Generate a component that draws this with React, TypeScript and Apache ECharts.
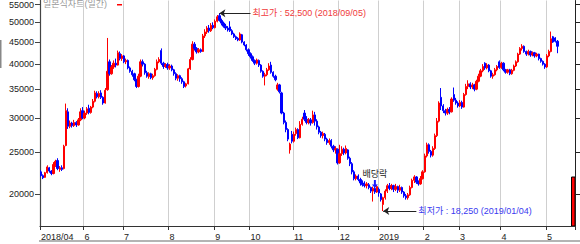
import React, { useEffect, useRef } from "react";
import * as echarts from "echarts";

// KRX holidays in the range (non-trading weekdays)
const holidays = [
  "2018-05-01", "2018-05-07", "2018-05-22", "2018-06-06", "2018-06-13", "2018-08-15",
  "2018-09-24", "2018-09-25", "2018-09-26", "2018-10-03", "2018-10-09", "2018-12-25",
  "2018-12-31", "2019-01-01", "2019-02-04", "2019-02-05", "2019-02-06", "2019-03-01",
  "2019-05-01", "2019-05-06",
];

function tradingDays(start: string, end: string): string[] {
  const out: string[] = [];
  const [sy, sm, sd] = start.split("-").map(Number);
  const [ey, em, ed] = end.split("-").map(Number);
  let t = Date.UTC(sy, sm - 1, sd);
  const e = Date.UTC(ey, em - 1, ed);
  while (t <= e) {
    const d = new Date(t);
    const dow = d.getUTCDay();
    const s = d.toISOString().slice(0, 10);
    if (dow !== 0 && dow !== 6 && holidays.indexOf(s) < 0) out.push(s);
    t += 86400000;
  }
  return out;
}

const dates = tradingDays("2018-04-30", "2019-05-22");

// [open, close, low, high]
const ohlc: number[][] = [
  [22500, 22050, 21900, 22700],
  // 2018-05
  [22050, 21800, 21650, 22200], [21850, 22400, 21800, 22500], [22400, 23100, 22300, 23300],
  [23000, 22600, 22400, 23100], [22600, 22300, 22100, 22700], [22300, 23400, 22200, 23700],
  [23300, 23800, 23100, 24000], [23900, 22900, 22700, 24200], [22800, 23000, 22500, 23200],
  [23000, 22800, 22600, 23300], [22900, 25800, 22800, 26000], [25900, 31200, 25800, 32400],
  [31000, 28700, 28300, 31600], [28700, 29200, 28400, 29600], [29200, 28800, 28500, 29400],
  [28800, 29300, 28600, 29700], [29300, 28900, 28600, 29500], [28900, 29700, 28800, 30000],
  [29700, 31000, 29500, 31600], [31200, 30000, 29800, 31800],
  // 2018-06
  [30000, 30800, 29800, 31200], [30800, 31500, 30500, 31800], [31600, 30900, 30600, 32200],
  [30900, 31800, 30700, 32000], [31800, 32800, 31600, 33200], [32800, 34300, 32600, 34700],
  [34200, 33600, 33300, 34600], [33600, 34200, 33300, 34600], [34300, 33500, 33200, 34800],
  [33500, 32500, 32200, 33700], [32500, 34800, 32400, 35200], [34900, 38500, 34700, 46000],
  [40500, 38000, 37600, 41000], [38000, 39400, 37800, 39800], [39400, 40200, 39000, 40800],
  [40200, 39800, 39300, 41200], [39800, 42500, 39700, 43000], [42300, 41200, 40800, 42800],
  [41200, 41800, 40700, 42200],
  // 2018-07
  [41800, 40500, 40200, 42000], [40500, 40800, 40000, 41200], [40800, 39200, 38900, 41000],
  [39200, 38500, 38200, 39500], [38500, 37800, 37400, 38800], [38000, 36800, 36500, 38200],
  [36800, 35500, 35200, 37000], [35500, 37500, 35300, 38000], [37500, 40500, 37300, 41000],
  [40500, 40000, 39500, 41000], [40000, 38200, 37800, 40200], [38200, 37500, 37200, 38600],
  [37400, 38000, 37000, 38300], [38000, 37200, 36900, 38200], [37200, 37600, 36800, 38000],
  [37600, 38900, 37400, 39200], [38900, 40500, 38700, 41000], [40500, 41000, 40200, 41500],
  [43000, 40200, 39800, 43500], [40200, 39500, 39000, 40500], [39500, 39900, 39200, 40200],
  [39900, 39200, 38800, 40300],
  // 2018-08
  [39200, 39600, 38800, 40000], [39600, 38800, 38500, 39900], [38800, 38000, 37600, 39000],
  [38000, 37100, 36700, 38300], [37100, 37600, 36600, 37900], [37600, 37000, 36400, 37800],
  [37000, 36400, 36000, 37300], [36400, 35500, 35200, 36600], [35600, 36000, 35300, 36200],
  [36000, 39000, 35900, 39200], [39000, 41000, 38800, 41500], [41000, 44500, 40800, 45200],
  [44500, 43500, 43000, 45000], [43500, 42700, 42300, 43800], [42700, 43200, 42400, 43600],
  [43200, 42800, 42500, 43500], [42800, 46500, 42700, 47000], [46500, 47500, 46000, 48200],
  [47500, 48500, 47000, 49000], [48500, 47800, 47300, 49300], [47800, 49200, 47500, 49800],
  [49200, 48600, 48200, 50000],
  // 2018-09
  [48600, 50300, 48400, 50800], [50300, 51500, 50000, 52000], [51800, 50500, 50200, 52500],
  [50500, 49800, 49200, 51000], [49800, 49000, 48600, 50200], [49000, 48500, 48000, 49600],
  [48500, 48000, 47600, 49000], [48800, 47800, 47500, 50300], [47800, 47000, 46700, 48200],
  [47000, 46300, 46000, 47300], [46300, 45800, 45500, 46600], [45900, 45500, 45200, 46200],
  [45500, 47000, 45300, 47400], [46800, 45000, 44700, 47000], [45000, 44300, 44000, 45200],
  [44300, 43200, 42800, 44500], [43200, 42300, 41800, 43500],
  // 2018-10
  [42300, 41600, 41200, 42600], [41600, 40800, 40500, 41900], [40800, 40200, 39800, 41000],
  [40200, 40900, 39900, 41200], [40800, 39800, 39400, 41000], [39800, 38500, 38200, 40000],
  [38500, 37500, 37200, 38700], [37500, 37800, 35700, 38200], [37800, 38800, 37500, 39200],
  [38800, 39600, 38600, 40200], [39800, 38300, 38000, 40500], [38300, 37500, 37200, 38500],
  [37500, 36800, 36500, 37800], [35000, 35800, 34700, 36200], [35800, 34500, 34200, 36000],
  [34300, 30800, 30600, 34500], [30800, 29300, 29000, 31000], [29300, 28200, 27800, 29600],
  [28200, 26800, 26500, 28400], [25300, 26100, 24800, 26300], [27500, 26500, 26200, 28000],
  // 2018-11
  [26500, 27500, 26300, 27900], [27600, 28200, 27300, 28500], [28200, 27000, 26800, 28400],
  [27000, 29000, 26900, 29500], [29000, 29800, 28800, 30200], [30800, 29800, 29500, 31300],
  [29800, 29300, 29000, 30300], [29300, 29700, 29000, 30000], [29700, 29200, 28800, 30000],
  [29300, 30500, 29100, 31200], [30500, 29500, 28800, 31000], [29500, 28600, 28200, 29800],
  [28600, 27800, 27500, 28800], [27800, 27300, 27000, 28000], [27300, 27600, 26900, 27900],
  [27500, 26800, 26500, 27700], [26800, 26300, 26000, 27000], [26300, 26600, 26000, 26900],
  [26600, 25800, 25500, 26800], [25800, 25300, 25000, 26000], [25300, 25500, 24800, 25800],
  [25400, 23600, 23400, 25500],
  // 2018-12
  [23600, 24800, 23500, 26000], [24800, 25400, 24500, 25800], [25400, 24900, 24600, 25600],
  [24900, 25500, 24700, 25900], [25300, 24200, 24000, 25400], [24200, 23500, 23200, 24400],
  [23500, 22500, 22200, 23700], [22500, 21700, 21500, 22700], [21700, 22000, 21500, 22200],
  [22000, 21600, 21400, 22200], [21600, 21200, 20900, 21800], [21200, 21000, 20800, 21500],
  [21000, 20900, 20700, 21400], [20900, 21100, 20600, 21300], [21000, 20700, 20500, 21200],
  [20700, 20300, 20100, 20800], [20300, 20600, 19200, 20800], [20600, 20200, 20000, 20900],
  [20200, 20800, 20100, 21000],
  // 2019-01
  [20500, 20100, 19700, 20700], [20000, 19400, 19200, 20100], [18900, 19600, 18250, 19700],
  [19600, 20300, 19400, 20500], [20300, 20900, 20100, 21100], [20900, 20600, 20400, 21200],
  [20600, 20900, 20400, 21100], [20900, 20500, 20200, 21000], [20500, 20800, 20300, 21100],
  [20800, 20400, 20100, 20900], [20400, 20700, 20200, 21000], [20700, 20200, 20000, 20800],
  [20200, 19800, 19600, 20300], [19800, 19600, 19400, 20000], [19600, 19900, 19400, 20100],
  [19900, 20700, 19800, 20900], [20700, 21500, 20600, 21700], [21500, 21900, 21200, 22100],
  [21900, 21300, 21100, 22000], [21300, 21100, 20900, 21500], [21100, 21700, 21000, 22000],
  [21700, 22500, 21600, 22700],
  // 2019-02
  [22500, 24500, 22400, 24800], [24500, 26000, 24300, 26300], [26000, 25100, 24800, 26200],
  [25100, 24600, 24300, 25300], [24600, 25500, 24400, 25800], [25500, 27300, 25300, 27600],
  [27300, 29500, 27100, 30000], [29500, 32500, 29300, 32800], [33500, 32000, 31300, 35200],
  [32000, 31200, 30800, 32300], [31200, 30800, 30400, 31500], [30800, 31400, 30500, 31700],
  [31400, 31000, 30600, 31800], [31000, 33200, 30900, 33500], [34000, 33000, 32700, 35300],
  [33000, 32500, 32200, 33400], [32500, 32000, 31700, 32800],
  // 2019-03
  [32000, 32600, 31800, 33000], [32600, 31800, 31500, 32900], [31800, 34000, 31700, 34300],
  [34000, 35500, 33800, 36000], [35500, 36000, 35000, 36700], [36000, 35400, 35000, 36300],
  [35400, 35800, 35000, 36200], [35800, 35000, 34600, 36000], [35000, 36500, 34800, 36800],
  [36500, 37500, 36300, 38000], [37500, 38600, 37300, 39000], [38600, 39500, 38300, 40000],
  [40200, 39200, 38800, 40400], [39200, 39800, 38900, 40200], [39800, 38600, 38300, 40000],
  [38600, 37500, 37200, 38800], [37500, 37800, 37000, 38200], [37800, 38800, 37600, 39200],
  [38800, 39500, 38500, 39800], [40500, 39300, 39000, 40800],
  // 2019-04
  [39300, 40200, 39000, 40500], [40200, 38800, 38500, 40400], [38800, 38300, 38000, 39000],
  [38300, 38800, 38000, 39000], [38800, 38000, 37700, 39000], [38000, 38700, 37800, 39000],
  [38700, 39600, 38500, 39900], [39600, 40500, 39400, 40800], [40500, 42200, 40300, 42500],
  [42200, 43500, 42000, 43800], [43500, 44000, 43000, 44500], [44000, 42800, 42500, 44200],
  [42800, 42200, 41800, 43000], [42200, 42800, 41900, 43200], [42800, 42000, 41600, 43000],
  [42000, 42500, 41700, 42800], [42500, 41800, 41400, 42700], [41800, 42200, 41500, 42500],
  [42200, 41200, 40800, 42300], [41200, 40600, 40300, 41400], [40600, 40000, 39700, 40800],
  [40000, 39400, 39000, 40200],
  // 2019-05
  [39400, 41800, 39200, 42200], [41800, 42800, 41500, 43200], [42800, 45800, 42600, 47600],
  [46300, 45000, 44800, 46500], [46000, 45200, 44900, 46200], [45200, 44000, 42400, 45500],
];

const yTicks = [20000, 25000, 30000, 35000, 40000, 45000, 50000, 55000];
const yMin = 16850;
const yMax = 56185;

const peak = { date: "2018-09-05", price: 52500, text: "최고가 : 52,500 (2018/09/05)" };
const trough = { date: "2019-01-04", price: 18250, text: "최저가 : 18,250 (2019/01/04)" };
const exDiv = { date: "2018-12-27", price: 21080, text: "배당락" };
const chartTitle = "일본식차트(일간)";

const FONT = "'Liberation Sans', Arial, 'Noto Sans CJK KR', sans-serif";

function labelOf(i: number): string {
  if (i === 0) return "2018/04";
  const m = dates[i].slice(5, 7);
  const pm = dates[i - 1].slice(5, 7);
  if (m === pm) return "";
  if (dates[i].startsWith("2018-05")) return "";
  if (m === "01") return dates[i].slice(0, 4);
  return String(Number(m));
}
const isTick = (i: number) => labelOf(i) !== "";

export default function App() {
  const ref = useRef<HTMLDivElement>(null);
  useEffect(() => {
    document.body.style.margin = "0";
    if (!ref.current) return;
    const chart = echarts.init(ref.current, undefined, { renderer: "svg" });
    const lnTicks = yTicks.map(Math.log);
    const peakEnd = dates[dates.indexOf(peak.date) + 15];
    const troughEnd = dates[dates.indexOf(trough.date) + 16];
    chart.setOption({
      animation: false,
      grid: { left: 40, right: 5, top: 0, bottom: 18, containLabel: false },
      xAxis: {
        type: "category",
        data: dates,
        boundaryGap: true,
        axisLine: { show: true, lineStyle: { color: "#333", width: 1.2 } },
        axisTick: { show: true, interval: (i: number) => isTick(i), length: 4, lineStyle: { color: "#333" } },
        axisLabel: {
          interval: (i: number) => isTick(i),
          formatter: (_v: string, i: number) => labelOf(i),
          align: "left",
          margin: 6,
          fontSize: 9,
          color: "#222",
          fontFamily: FONT,
        },
        splitLine: { show: true, interval: (i: number) => isTick(i), lineStyle: { color: "#cfcfcf", width: 1 } },
      },
      yAxis: [
        {
          type: "value",
          position: "left",
          min: Math.log(yMin),
          max: Math.log(yMax),
          axisLine: { show: true, lineStyle: { color: "#444", width: 1.2 } },
          axisTick: { show: true, customValues: lnTicks, length: 5, lineStyle: { color: "#444" } },
          axisLabel: {
            customValues: lnTicks,
            formatter: (v: number) => String(Math.round(Math.exp(v))),
            fontSize: 9,
            color: "#222",
            margin: 6,
            fontFamily: FONT,
          },
          splitLine: { show: false },
        },
        {
          type: "value",
          position: "right",
          min: Math.log(yMin),
          max: Math.log(yMax),
          axisLine: { show: true, lineStyle: { color: "#222", width: 1 } },
          axisTick: { show: true, customValues: lnTicks, length: 5, lineStyle: { color: "#222" } },
          axisLabel: { show: false },
          splitLine: { show: false },
        },
      ],
      series: [
        {
          type: "candlestick",
          data: ohlc.map((r) => r.map(Math.log)),
          barWidth: 1.8,
          itemStyle: {
            color: "#ff0000",
            color0: "#0000ff",
            borderColor: "#ff0000",
            borderColor0: "#0000ff",
            borderWidth: 1,
          },
          markLine: {
            silent: true,
            animation: false,
            symbol: ["arrow", "none"],
            symbolSize: 6,
            lineStyle: { color: "#222", width: 1, type: "solid" },
            label: { show: true, position: "end", fontSize: 9, distance: 2, fontFamily: FONT },
            data: [
              [
                { coord: [peak.date, Math.log(peak.price)], label: { formatter: peak.text, color: "#f03a3a" } },
                { coord: [peakEnd, Math.log(peak.price)] },
              ],
              [
                { coord: [trough.date, Math.log(trough.price)], label: { formatter: trough.text, color: "#3a3af0" } },
                { coord: [troughEnd, Math.log(trough.price)] },
              ],
            ],
          },
          markPoint: {
            silent: true,
            animation: false,
            data: [
              {
                coord: [exDiv.date, Math.log(exDiv.price)],
                symbol: "path://M2,0 L4,0 L4,5 L6,5 L3,9 L0,5 L2,5 Z",
                symbolSize: [6, 8],
                itemStyle: { color: "#1a1aff" },
                label: {
                  show: true,
                  position: "top",
                  formatter: exDiv.text,
                  color: "#222",
                  fontSize: 9,
                  distance: 2,
                  fontFamily: FONT,
                },
              },
            ],
          },
        },
      ],
      graphic: [
        {
          type: "text",
          x: 43,
          y: 4,
          style: { text: chartTitle, fill: "#999", font: `9px ${FONT}`, textVerticalAlign: "middle" },
        },
        { type: "rect", shape: { x: 117, y: 4, width: 5, height: 1.5 }, style: { fill: "#ff0000" } },
        {
          type: "rect",
          shape: { x: 571.5, y: 177, width: 3.5, height: 49 },
          style: { fill: "#ff0000", stroke: "#000", lineWidth: 1 },
        },
        { type: "line", shape: { x1: 39, y1: 241, x2: 580, y2: 241 }, style: { stroke: "#b4b4b4", lineWidth: 2 } },
        { type: "rect", shape: { x: 0, y: 40, width: 1.5, height: 28 }, style: { fill: "#888" } },
      ],
    });
    return () => chart.dispose();
  }, []);
  return <div ref={ref} style={{ width: 580, height: 244 }} />;
}
